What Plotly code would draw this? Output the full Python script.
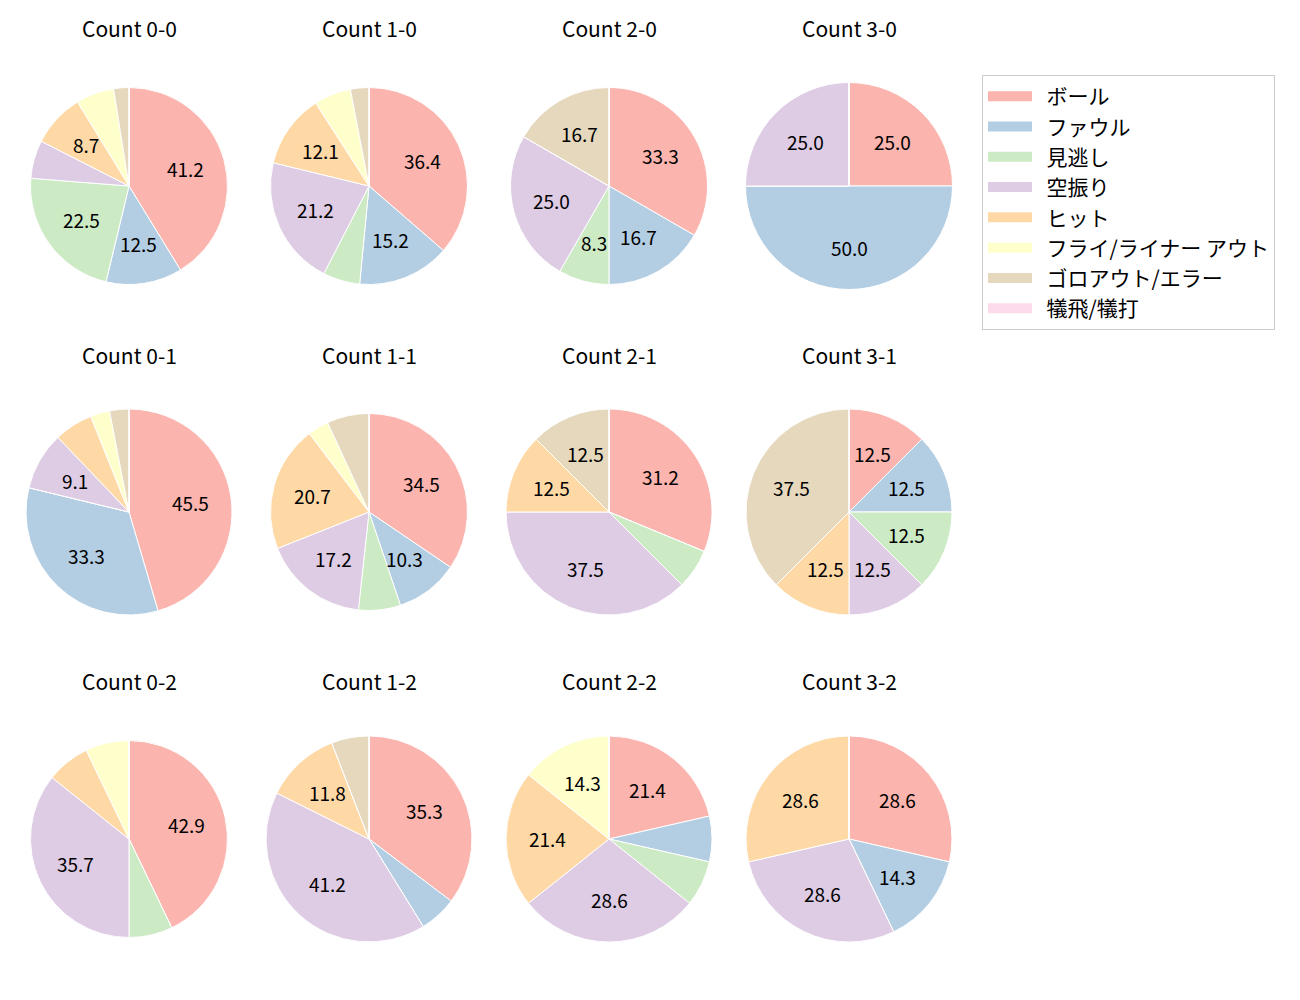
import math
import numpy as np
import plotly.graph_objects as go

# categories (legend order)
labels = ["ボール", "ファウル", "見逃し", "空振り", "ヒット",
          "フライ/ライナー アウト", "ゴロアウト/エラー", "犠飛/犠打"]
colors = ["#fbb4ae", "#b3cde3", "#ccebc5", "#decbe4", "#fed9a6",
          "#ffffcc", "#e5d8bd", "#fddaec"]

# pitch counts per ball-strike count
c00 = [33, 10, 18, 5, 7, 5, 2, 0]
c10 = [12, 5, 2, 7, 4, 2, 1, 0]
c20 = [4, 2, 1, 3, 0, 0, 2, 0]
c30 = [1, 2, 0, 1, 0, 0, 0, 0]
c01 = [15, 11, 0, 3, 2, 1, 1, 0]
c11 = [10, 3, 2, 5, 6, 1, 2, 0]
c21 = [5, 0, 1, 6, 2, 0, 2, 0]
c31 = [1, 1, 1, 1, 1, 0, 3, 0]
c02 = [6, 0, 1, 5, 1, 1, 0, 0]
c12 = [6, 1, 0, 7, 2, 0, 1, 0]
c22 = [3, 1, 1, 4, 3, 2, 0, 0]
c32 = [2, 1, 0, 2, 2, 0, 0, 0]

titles = ["Count 0-0", "Count 1-0", "Count 2-0", "Count 3-0",
          "Count 0-1", "Count 1-1", "Count 2-1", "Count 3-1",
          "Count 0-2", "Count 1-2", "Count 2-2", "Count 3-2"]
series = [c00, c10, c20, c30, c01, c11, c21, c31, c02, c12, c22, c32]

# layout, in page pixels (the plot div sits 8px in from the page corner)
W, H = 1300, 1000
OFF = 8
col_x = [129, 369, 609, 849]
row_y = [186, 512, 839]
radii = [98.5, 98.5, 98.5, 103.5,
         103, 98.5, 103, 103,
         98.5, 103, 103, 103]
title_y = [28, 355, 681]
PCT_DIST = 0.6

FONT = "Noto Sans CJK JP, Noto Sans, sans-serif"

fig = go.Figure()
annotations = []
for i, (vals, ttl) in enumerate(zip(series, titles)):
    r, c = divmod(i, 4)
    cx, cy, rad = col_x[c], row_y[r], radii[i]
    fig.add_trace(go.Pie(
        labels=labels,
        values=vals,
        textinfo="none",
        sort=False,
        direction="clockwise",
        rotation=0,
        marker=dict(colors=colors, line=dict(color="white", width=1)),
        hoverinfo="label+value+percent",
        showlegend=False,
        domain=dict(x=[(cx - rad - OFF) / W, (cx + rad - OFF) / W],
                    y=[1 - (cy + rad - OFF) / H, 1 - (cy - rad - OFF) / H]),
    ))
    # percentage labels at 0.6 r along each wedge's bisector
    fracs = np.asarray(vals, np.float32)
    fracs = fracs / fracs.sum()
    cum = 0.0
    for frac in fracs:
        frac = float(frac)
        pct = 100.0 * frac
        mid = math.radians(90 - 360 * (cum + frac / 2))
        cum += frac
        if pct >= 8:
            annotations.append(dict(
                x=cx + PCT_DIST * rad * math.cos(mid),
                y=cy - PCT_DIST * rad * math.sin(mid) - 1,
                xref="x", yref="y", text="%1.1f" % pct, showarrow=False,
                xanchor="center", yanchor="middle",
                font=dict(size=19, color="black", family=FONT),
            ))
    annotations.append(dict(
        x=cx, y=title_y[r], xref="x", yref="y",
        text=ttl, showarrow=False, xanchor="center", yanchor="middle",
        font=dict(size=21, color="black", family=FONT),
    ))

# legend entries (wide swatches like the original)
for lab, col in zip(labels, colors):
    fig.add_trace(go.Scatter(
        x=[None], y=[None], mode="lines", name="\u00a0\u00a0" + lab,
        line=dict(color=col, width=14),
        hoverinfo="skip",
    ))

fig.update_layout(
    width=W, height=H,
    margin=dict(l=0, r=0, t=0, b=0),
    paper_bgcolor="white",
    plot_bgcolor="rgba(0,0,0,0)",
    annotations=annotations,
    xaxis=dict(range=[OFF, W + OFF], visible=False, fixedrange=True),
    yaxis=dict(range=[H + OFF, OFF], visible=False, fixedrange=True),
    legend=dict(
        x=(982 - OFF) / W, y=1 - (75 - OFF) / H, xanchor="left", yanchor="top",
        bordercolor="#cccccc", borderwidth=1,
        font=dict(size=21, color="black", family=FONT),
        itemwidth=44,
        traceorder="normal",
    ),
)

fig.write_html("out.html")
